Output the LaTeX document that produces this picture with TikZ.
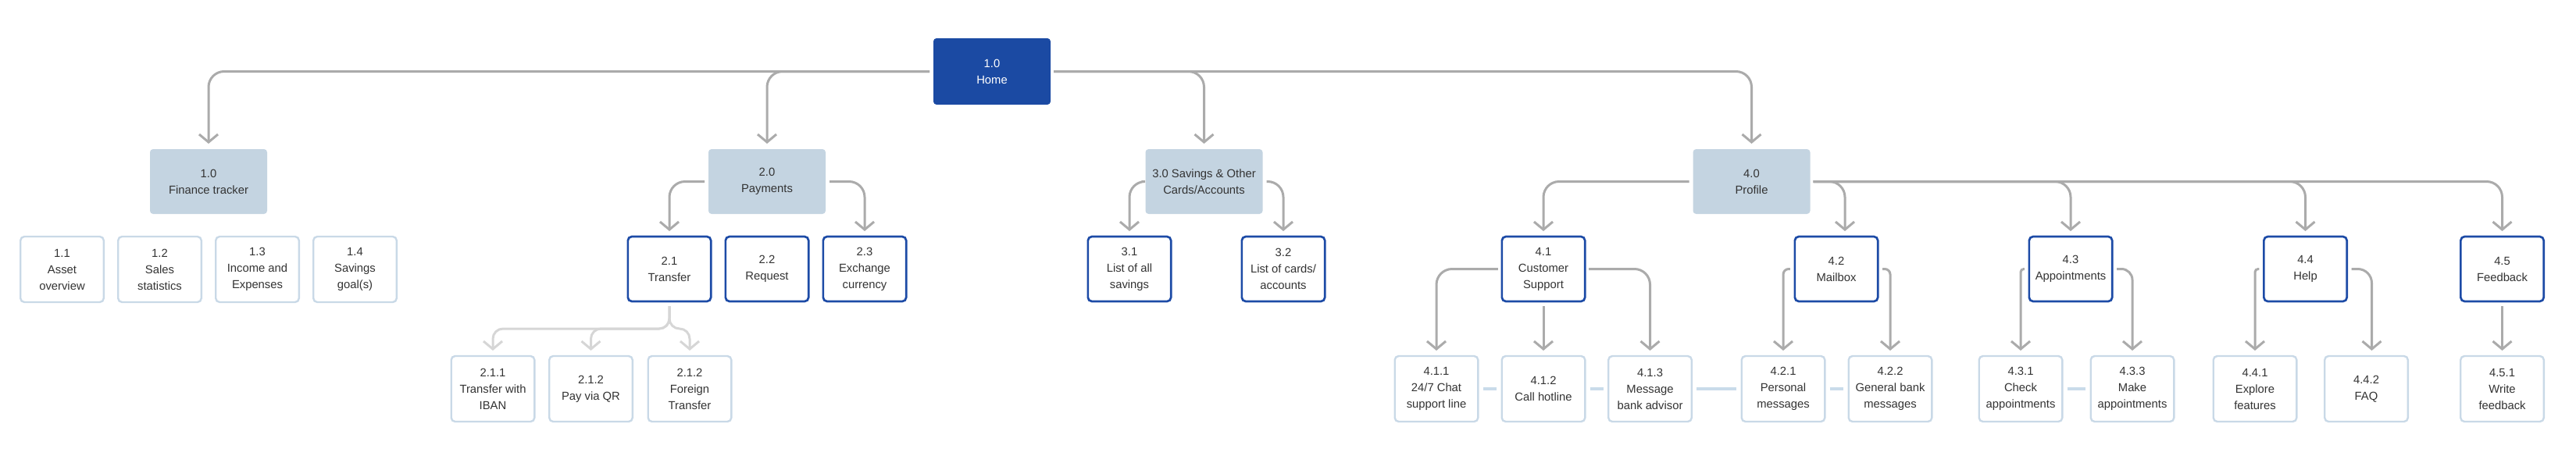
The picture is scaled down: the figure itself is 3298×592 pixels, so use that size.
\documentclass[tikz,border=0pt]{standalone}
\usepackage{fontspec}
\setmainfont{Liberation Sans}
\usepackage{xcolor}
\usetikzlibrary{positioning,arrows.meta}

\definecolor{homeblue}{HTML}{1B4AA3}
\definecolor{catfill}{HTML}{C4D4E1}
\definecolor{pageblue}{HTML}{1D4BA6}
\definecolor{leafline}{HTML}{C9D9E7}
\definecolor{arrgray}{HTML}{ABABAB}
\definecolor{arrlightgray}{HTML}{D6D6D6}
\definecolor{tieblue}{HTML}{C9DBEA}
\definecolor{textgray}{HTML}{333333}

\tikzset{
  nodebase/.style={align=center, outer sep=0pt, inner sep=2pt, text=textgray,
    font=\fontsize{14.8pt}{21pt}\selectfont},
  homebox/.style={nodebase, fill=homeblue, text=white, rounded corners=4pt,
    minimum width=150pt, minimum height=85pt},
  catbox/.style={nodebase, fill=catfill, rounded corners=4pt,
    minimum width=150pt, minimum height=83pt},
  pagebox/.style={nodebase, draw=pageblue, line width=2.7pt, fill=white,
    rounded corners=5pt, minimum width=106.3pt, minimum height=83pt},
  leafbox/.style={nodebase, draw=leafline, line width=2.4pt, fill=white,
    rounded corners=5pt, minimum width=106.6pt, minimum height=84pt},
  arr/.style={draw=arrgray, line width=3pt, rounded corners=20pt,
    -{Straight Barb[length=10pt,width=24pt]}, shorten >=7pt},
  arrlight/.style={arr, draw=arrlightgray},
  tie/.style={draw=tieblue, line width=3.5pt, shorten <=6.5pt, shorten >=6.5pt},
}

\begin{document}
\begin{tikzpicture}
	\useasboundingbox (0,0) rectangle (3298pt,-592pt);
	% Define nodes
	\node[homebox] (home) at (1270pt,-91.5pt) {1.0\\Home};
	\node[catbox, below=57pt of home, xshift=-1003pt] (fin)  {1.0\\Finance tracker};
	\node[catbox, below=57pt of home, xshift=-288pt]  (pay)  {2.0\\Payments};
	\node[catbox, below=57pt of home, xshift=271.5pt] (sav)  {3.0 Savings \& Other\\Cards/Accounts};
	\node[catbox, below=57pt of home, xshift=972.5pt] (prof) {4.0\\Profile};

	\node[leafbox, below=29pt of fin, xshift=-187.5pt] (asset)  {1.1\\Asset\\overview};
	\node[leafbox, below=29pt of fin, xshift=-62.5pt]  (sales)  {1.2\\Sales\\statistics};
	\node[leafbox, below=29pt of fin, xshift=62.5pt]   (income) {1.3\\Income and\\Expenses};
	\node[leafbox, below=29pt of fin, xshift=187.5pt]  (goals)  {1.4\\Savings\\goal(s)};

	\node[pagebox, below=29pt of pay, xshift=-125pt] (transfer) {2.1\\Transfer};
	\node[pagebox, below=29pt of pay]                (request)  {2.2\\Request};
	\node[pagebox, below=29pt of pay, xshift=125pt]  (exch)     {2.3\\Exchange\\currency};
	\node[pagebox, below=29pt of sav, xshift=-95.5pt] (allsav) {3.1\\List of all\\savings};
	\node[pagebox, below=29pt of sav, xshift=101.5pt] (cards)  {3.2\\List of cards/\\accounts};
	\node[pagebox, below=29pt of prof, xshift=-266.5pt] (cs)   {4.1\\Customer\\Support};
	\node[pagebox, below=29pt of prof, xshift=108.5pt]  (mail) {4.2\\Mailbox};
	\node[pagebox, below=29pt of prof, xshift=408.5pt]  (appt) {4.3\\Appointments};
	\node[pagebox, below=29pt of prof, xshift=709pt]    (help) {4.4\\Help};
	\node[pagebox, below=29pt of prof, xshift=961pt]    (fb)   {4.5\\Feedback};

	\node[leafbox, below=70pt of transfer, xshift=-226pt]  (iban)    {2.1.1\\Transfer with\\IBAN};
	\node[leafbox, below=70pt of transfer, xshift=-100.5pt] (qr)     {2.1.2\\Pay via QR};
	\node[leafbox, below=70pt of transfer, xshift=26pt]    (foreign) {2.1.2\\Foreign\\Transfer};
	\node[leafbox, below=70pt of cs, xshift=-137pt]  (chat)    {4.1.1\\24/7 Chat\\support line};
	\node[leafbox, below=70pt of cs]                 (hotline) {4.1.2\\Call hotline};
	\node[leafbox, below=70pt of cs, xshift=136.5pt] (msg)     {4.1.3\\Message\\bank advisor};
	\node[leafbox, below=70pt of mail, xshift=-68pt] (pers) {4.2.1\\Personal\\messages};
	\node[leafbox, below=70pt of mail, xshift=69pt]  (gen)  {4.2.2\\General bank\\messages};
	\node[leafbox, below=70pt of appt, xshift=-64pt] (check) {4.3.1\\Check\\appointments};
	\node[leafbox, below=70pt of appt, xshift=79pt]  (make)  {4.3.3\\Make\\appointments};
	\node[leafbox, below=70pt of help, xshift=-64.5pt] (expl) {4.4.1\\Explore\\features};
	\node[leafbox, below=70pt of help, xshift=78pt]    (faq)  {4.4.2\\FAQ};
	\node[leafbox, below=70pt of fb] (write) {4.5.1\\Write\\feedback};

	% Edges from home
	\draw[arr] ([xshift=-5pt]home.west) -| (fin.north);
	\draw[arr] ([xshift=-5pt]home.west) -| (pay.north);
	\draw[arr] ([xshift=4pt]home.east) -| (sav.north);
	\draw[arr] ([xshift=4pt]home.east) -| (prof.north);

	% Edges to pages
	\draw[arr] ([xshift=-5pt]pay.west) -| (transfer.north);
	\draw[arr] ([xshift=5pt]pay.east) -| (exch.north);
	\draw[arr] ([xshift=-5pt]sav.west) -| (allsav.north);
	\draw[arr] ([xshift=5pt]sav.east) -| (cards.north);
	\draw[arr] ([xshift=-5pt]prof.west) -| (cs.north);
	\draw[arr] ([xshift=4pt]prof.east) -| ([xshift=11pt]mail.north);
	\draw[arr] ([xshift=4pt]prof.east) -| (appt.north);
	\draw[arr] ([xshift=4pt]prof.east) -| (help.north);
	\draw[arr] ([xshift=4pt]prof.east) -| (fb.north);

	% Edges to subpages
	\draw[arrlight, rounded corners=13pt] ([yshift=-6pt]transfer.south) -- ++(0,-29pt) -| (iban.north);
	\draw[arrlight, rounded corners=13pt] ([yshift=-6pt]transfer.south) -- ++(0,-29pt) -| (qr.north);
	\draw[arrlight, rounded corners=13pt] ([yshift=-6pt]transfer.south) -- ++(0,-29pt) -| (foreign.north);
	\draw[arr] ([xshift=-5pt]cs.west) -| (chat.north);
	\draw[arr] ([yshift=-6pt]cs.south) -- (hotline.north);
	\draw[arr] ([xshift=5pt]cs.east) -| (msg.north);
	\draw[arr, rounded corners=7pt] ([xshift=-6pt]mail.west) -| (pers.north);
	\draw[arr, rounded corners=7pt] ([xshift=6pt]mail.east) -| (gen.north);
	\draw[arr, rounded corners=4pt] ([xshift=-6pt]appt.west) -| (check.north);
	\draw[arr, rounded corners=14pt] ([xshift=6pt]appt.east) -| (make.north);
	\draw[arr, rounded corners=4pt] ([xshift=-6pt]help.west) -| (expl.north);
	\draw[arr, rounded corners=18pt] ([xshift=6pt]help.east) -| ([xshift=7pt]faq.north);
	\draw[arr] ([yshift=-6pt]fb.south) -- (write.north);

	% Ties between subpages
	\draw[tie] (chat) -- (hotline);
	\draw[tie] (hotline) -- (msg);
	\draw[tie] (msg) -- (pers);
	\draw[tie] (pers) -- (gen);
	\draw[tie] (check) -- (make);
\end{tikzpicture}
\end{document}
